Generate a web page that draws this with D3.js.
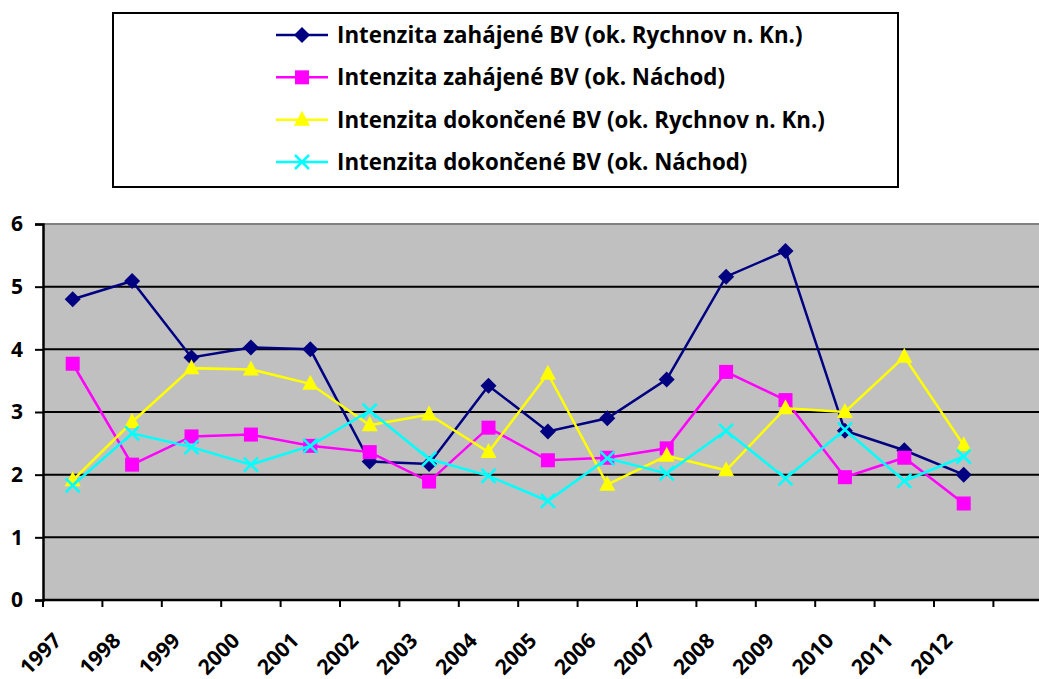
<!DOCTYPE html>
<html>
<head>
<meta charset="utf-8">
<script src="https://cdn.jsdelivr.net/npm/d3@7"></script>
<style>
  body { margin: 0; background: #fff; }
  text { font-family: "Open Sans", Lato, sans-serif; font-weight: bold; fill: #000; }
</style>
</head>
<body>
<div id="chart"></div>
<script>
// data
var years = ["1997", "1998", "1999", "2000", "2001", "2002", "2003", "2004",
             "2005", "2006", "2007", "2008", "2009", "2010", "2011", "2012"];
var zahRychnov = [4.80, 5.09, 3.87, 4.03, 4.00, 2.21, 2.17, 3.42, 2.69, 2.90, 3.52, 5.16, 5.57, 2.70, 2.39, 2.00];
var zahNachod  = [3.77, 2.16, 2.61, 2.64, 2.46, 2.36, 1.89, 2.75, 2.23, 2.27, 2.42, 3.64, 3.19, 1.96, 2.27, 1.54];
var dokRychnov = [1.91, 2.84, 3.70, 3.68, 3.45, 2.79, 2.96, 2.36, 3.61, 1.84, 2.30, 2.07, 3.06, 3.00, 3.88, 2.47];
var dokNachod  = [1.83, 2.66, 2.44, 2.16, 2.46, 3.02, 2.25, 1.98, 1.58, 2.26, 2.02, 2.70, 1.94, 2.72, 1.90, 2.29];
var seriesNames = ["Intenzita zahájené BV (ok. Rychnov n. Kn.)",
                   "Intenzita zahájené BV (ok. Náchod)",
                   "Intenzita dokončené BV (ok. Rychnov n. Kn.)",
                   "Intenzita dokončené BV (ok. Náchod)"];
var yTicks = [0, 1, 2, 3, 4, 5, 6];

var series = [
  {name: seriesNames[0], values: zahRychnov, color: "#000080", marker: "diamond"},
  {name: seriesNames[1], values: zahNachod,  color: "#ff00ff", marker: "square"},
  {name: seriesNames[2], values: dokRychnov, color: "#ffff00", marker: "triangle"},
  {name: seriesNames[3], values: dokNachod,  color: "#00ffff", marker: "x"}
];

var W = 1039, H = 679;
var margin = {top: 224, left: 43};
var step = 59.4;
var width = step * (years.length + 1),   // one empty category at the end
    height = 376;

var svg = d3.select("#chart").append("svg")
  .attr("width", W).attr("height", H);

var x = d3.scaleBand()
  .domain(years.concat([""]))
  .range([0, width]);
var y = d3.scaleLinear().domain([0, 6]).range([height, 0]);

var g = svg.append("g")
  .attr("transform", "translate(" + margin.left + "," + margin.top + ")");

// plot background
g.append("rect")
  .attr("width", width).attr("height", height)
  .attr("fill", "#c0c0c0");
g.append("line")
  .attr("x1", 0).attr("x2", width).attr("y1", 0).attr("y2", 0)
  .attr("stroke", "#808080").attr("stroke-width", 2);

// gridlines
g.selectAll(".grid").data(yTicks.filter(d => d > 0 && d < 6))
  .enter().append("line")
  .attr("x1", 0).attr("x2", width)
  .attr("y1", d => y(d)).attr("y2", d => y(d))
  .attr("stroke", "#000").attr("stroke-width", 2);

// y axis
var yAxis = g.append("g")
  .call(d3.axisLeft(y).tickValues(yTicks).tickSize(8).tickPadding(12).tickFormat(d3.format("d")));
yAxis.select(".domain").attr("stroke-width", 2.5);
yAxis.selectAll(".tick line").attr("stroke-width", 2);
yAxis.selectAll("text").attr("font-size", 21).attr("fill", "#000")
  .style("font-family", "'Open Sans', sans-serif").style("font-weight", "bold");

// x axis, ticks between categories
var tickPos = d3.range(0, years.length + 2).map(i => i * step);
var xAxis = g.append("g").attr("transform", "translate(0," + height + ")");
xAxis.append("line").attr("x1", 0).attr("x2", width)
  .attr("stroke", "#000").attr("stroke-width", 2.5);
xAxis.selectAll(".xt").data(tickPos).enter().append("line")
  .attr("x1", d => d).attr("x2", d => d)
  .attr("y1", 0).attr("y2", 7)
  .attr("stroke", "#000").attr("stroke-width", 2);
xAxis.selectAll(".xl").data(years).enter().append("text")
  .attr("transform", d => "translate(" + (x(d) + x.bandwidth() / 2 - 10) + ",42) rotate(-45)")
  .attr("text-anchor", "end")
  .attr("font-size", 21)
  .text(d => d);

var cx = (d, i) => x(years[i]) + x.bandwidth() / 2;

var line = d3.line()
  .x((d, i) => x(years[i]) + x.bandwidth() / 2)
  .y(d => y(d));

function drawMarker(sel, type, color) {
  if (type === "diamond") {
    sel.append("path").attr("d", "M0,-8L8,0L0,8L-8,0Z").attr("fill", color);
  } else if (type === "square") {
    sel.append("rect").attr("x", -7).attr("y", -7).attr("width", 14).attr("height", 14).attr("fill", color);
  } else if (type === "triangle") {
    sel.append("path").attr("d", "M0,-9L8,6L-8,6Z").attr("fill", color);
  } else {
    sel.append("path").attr("d", "M-7,-7L7,7M-7,7L7,-7").attr("stroke", color)
      .attr("stroke-width", 2.5).attr("fill", "none");
  }
}

series.forEach(function(s) {
  g.append("path")
    .datum(s.values)
    .attr("d", line)
    .attr("fill", "none")
    .attr("stroke", s.color)
    .attr("stroke-width", 2.5);
  g.selectAll(null).data(s.values).enter().append("g")
    .attr("transform", (d, i) => "translate(" + cx(d, i) + "," + y(d) + ")")
    .each(function() { drawMarker(d3.select(this), s.marker, s.color); });
});

// legend
var legend = svg.append("g");
legend.append("rect")
  .attr("x", 113).attr("y", 13).attr("width", 785).attr("height", 174)
  .attr("fill", "#fff").attr("stroke", "#000").attr("stroke-width", 2);
var rowY = d3.scalePoint().domain(seriesNames).range([35, 162]);
var labels = [];
series.forEach(function(s) {
  var ly = rowY(s.name);
  legend.append("line")
    .attr("x1", 276).attr("x2", 328).attr("y1", ly).attr("y2", ly)
    .attr("stroke", s.color).attr("stroke-width", 2.5);
  var m = legend.append("g").attr("transform", "translate(302," + ly + ")");
  drawMarker(m, s.marker, s.color);
  labels.push(legend.append("text")
    .attr("x", 337).attr("y", ly).attr("dy", "0.36em")
    .attr("font-size", 20)
    .text(s.name));
});
// fit the font so the first label spans about as wide as in the original
var w0 = labels[0].node().getComputedTextLength();
var fs = Math.round(20 * 465 / w0 * 10) / 10;
labels.forEach(t => t.attr("font-size", fs));
</script>
</body>
</html>
